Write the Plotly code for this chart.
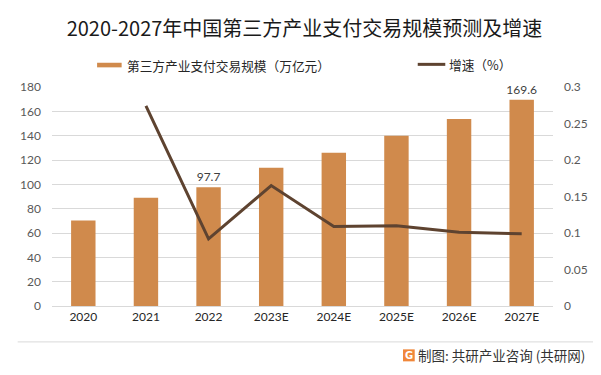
import plotly.graph_objects as go

categories = ["2020", "2021", "2022", "2023E", "2024E", "2025E", "2026E", "2027E"]
scale_values = [70.2, 89.0, 97.7, 113.6, 125.9, 139.9, 153.8, 169.6]
growth_values = [None, 0.274, 0.092, 0.165, 0.109, 0.110, 0.101, 0.099]
label_text = ["", "", "97.7", "", "", "", "", "169.6"]
left_ticks = [0, 20, 40, 60, 80, 100, 120, 140, 160, 180]
right_ticks = [0, 0.05, 0.1, 0.15, 0.2, 0.25, 0.3]
right_tick_text = ["0", "0.05", "0.1", "0.15", "0.2", "0.25", "0.3"]

title_text = "2020-2027年中国第三方产业支付交易规模预测及增速"
bar_name = "第三方产业支付交易规模（万亿元）"
line_name = "增速（%）"
source_text = "制图: 共研产业咨询 (共研网)"

BAR_COLOR = "#D08A4C"
LINE_COLOR = "#5E4330"
CJK = "Noto Sans CJK SC"
NUM = "Lato, Noto Sans CJK SC"

fig = go.Figure()
fig.add_trace(go.Bar(
    x=categories, y=scale_values, name=bar_name,
    marker=dict(color=BAR_COLOR, line=dict(width=0)),
    width=0.39,
    text=label_text, textposition="outside", cliponaxis=False, constraintext="none",
    textfont=dict(family=NUM, size=12, color="#404040"),
    showlegend=False, yaxis="y",
))
fig.add_trace(go.Scatter(
    x=categories, y=growth_values, name=line_name, mode="lines",
    line=dict(color=LINE_COLOR, width=3),
    showlegend=False, yaxis="y2", connectgaps=False,
))

# faint watermarks
wm = [(0.15, 1.22), (0.20, 0.82), (0.62, 1.30), (0.62, 0.68), (0.25, 0.20), (0.95, 0.95), (0.70, 0.05)]
annotations = []
for (wx, wy) in wm:
    annotations.append(dict(x=wx, y=wy, xref="paper", yref="paper", showarrow=False,
                            text="<b>共研产业咨询</b><br>w w w . g o n y n . c o m",
                            textangle=-12, font=dict(family=CJK, size=22, color="rgba(0,0,0,0.022)")))

# legend texts
annotations.append(dict(x=0.1448, y=1.1002, xref="paper", yref="paper", xanchor="left", yanchor="middle",
                        showarrow=False, text=bar_name, font=dict(family=CJK, size=12.7, color="#262626")))
annotations.append(dict(x=0.7886, y=1.1034, xref="paper", yref="paper", xanchor="left", yanchor="middle",
                        showarrow=False, text=line_name, font=dict(family=CJK, size=12.7, color="#262626")))
# source
annotations.append(dict(x=1.0685, y=-0.2255, xref="paper", yref="paper", xanchor="right", yanchor="middle",
                        showarrow=False, text=source_text, font=dict(family=CJK, size=13.5, color="#333333")))
annotations.append(dict(x=0.7123, y=-0.2255, xref="paper", yref="paper", xanchor="center", yanchor="middle",
                        showarrow=False, text="<b>G</b>", font=dict(family="DejaVu Sans", size=10, color="white")))

shapes = [
    dict(type="rect", xref="paper", yref="paper", x0=0.090, x1=0.139, y0=1.0897, y1=1.1107,
         fillcolor=BAR_COLOR, line=dict(width=0)),
    dict(type="line", xref="paper", yref="paper", x0=-0.0685, x1=1.086, y0=-0.164, y1=-0.164,
         line=dict(color="#D9D9D9", width=1)),
    dict(type="line", xref="paper", yref="paper", x0=0.730, x1=0.785, y0=1.1034, y1=1.1034,
         line=dict(color=LINE_COLOR, width=3)),
    dict(type="rect", xref="paper", yref="paper", x0=0.7006, x1=0.724, y0=-0.2528, y1=-0.198,
         fillcolor="#F0873A", line=dict(width=0)),
]

# page has an 8px body margin, so the figure is offset by (8, 8)
fig.update_layout(
    width=601, height=375,
    margin=dict(l=34, r=56, t=79, b=76.5),
    paper_bgcolor="white", plot_bgcolor="white",
    title=dict(text=title_text, x=296.5 / 601, xanchor="center", y=1 - 21 / 375, yanchor="middle",
               xref="container", yref="container", font=dict(family=CJK, size=20, color="#1a1a1a")),
    xaxis=dict(type="category", showgrid=False, showline=True, linecolor="#D9D9D9", linewidth=1,
               ticks="", tickfont=dict(family=NUM, size=12, color="#262626")),
    yaxis=dict(range=[0, 180], tickvals=left_ticks, showgrid=True, gridcolor="#D9D9D9", gridwidth=1,
               zeroline=False, showline=False, ticks="", ticklabelstandoff=10,
               tickfont=dict(family=NUM, size=12, color="#595959")),
    yaxis2=dict(range=[0, 0.3], overlaying="y", side="right", tickvals=right_ticks, ticktext=right_tick_text,
                showgrid=False, zeroline=False, showline=False, ticks="", ticklabelstandoff=10,
                tickfont=dict(family=NUM, size=12, color="#595959")),
    bargap=0.61,
    annotations=annotations,
    shapes=shapes,
    showlegend=False,
)

fig.write_html("out.html")
